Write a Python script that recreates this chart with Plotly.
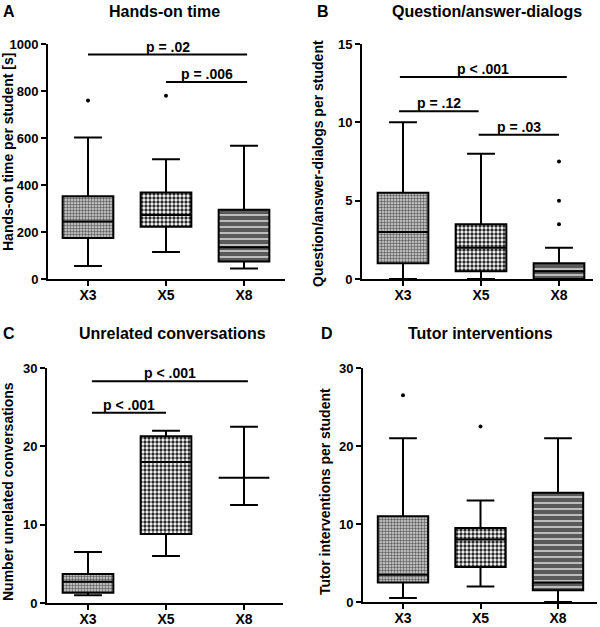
import plotly.graph_objects as go

# ---------------- data ----------------
CATS = ["X3", "X5", "X8"]

# Panel A: Hands-on time
A_LOW = [55, 115, 45]
A_Q1 = [175, 222, 75]
A_MED = [245, 272, 135]
A_Q3 = [352, 368, 295]
A_HIGH = [602, 510, 567]
A_OUT_X = ["X3", "X5"]
A_OUT_Y = [760, 780]

# Panel B: Question/answer-dialogs
B_LOW = [0, 0, 0]
B_Q1 = [1, 0.5, 0]
B_MED = [3, 2, 0.5]
B_Q3 = [5.5, 3.5, 1]
B_HIGH = [10, 8, 2]
B_OUT_X = ["X8", "X8", "X8"]
B_OUT_Y = [3.5, 5, 7.5]

# Panel C: Unrelated conversations
C_LOW = [1, 6, 12.5]
C_Q1 = [1.3, 8.8, 16]
C_MED = [2.7, 18, 16]
C_Q3 = [3.7, 21.3, 16]
C_HIGH = [6.5, 22, 22.5]
C_OUT_X = []
C_OUT_Y = []

# Panel D: Tutor interventions
D_LOW = [0.5, 2, 0]
D_Q1 = [2.5, 4.5, 1.5]
D_MED = [3.5, 8, 2.5]
D_Q3 = [11, 9.5, 14]
D_HIGH = [21, 13, 21]
D_OUT_X = ["X3", "X5"]
D_OUT_Y = [26.5, 22.5]

# significance brackets: (label, x start, x end, y)
A_SIG = [("p = .02", 0.0, 2.04, 955), ("p = .006", 1.0, 2.04, 838)]
B_SIG = [("p < .001", -0.04, 2.1, 12.9), ("p = .12", -0.05, 0.97, 10.7), ("p = .03", 0.97, 2.0, 9.2)]
C_SIG = [("p < .001", 0.05, 2.05, 28.3), ("p < .001", 0.05, 1.0, 24.3)]
D_SIG = []

TITLES = ["Hands-on time", "Question/answer-dialogs", "Unrelated conversations", "Tutor interventions"]
LETTERS = ["A", "B", "C", "D"]
YTITLES = ["Hands-on time per student [s]", "Question/answer-dialogs per student",
           "Number unrelated conversations", "Tutor interventions per student"]
YMAX = [1000, 15, 30, 30]
DTICK = [200, 5, 10, 10]

# ---------------- layout constants (pixels) ----------------
W, H = 600, 627
# (left, right, top, bottom, x of X3, x of X8)
PANELS = [
    (48, 285, 44, 279, 88, 244),
    (362, 593, 44, 279, 403, 559),
    (47, 283, 368, 603, 88, 244),
    (363, 597, 368, 602, 403, 558),
]
TITLE_POS = [(164, 11), (487, 11), (172, 333), (480, 333)]
LETTER_POS = [(9, 11), (323, 11), (9, 333), (327, 333)]
YTITLE_POS = [(8, 152), (318, 164), (8, 492), (325, 492)]

PATTERN = dict(
    shape=[".", ".", "-"],
    fgcolor=["#606060", "#2a2a2a", "#ffffff"],
    bgcolor=["#d6d6d6", "#ffffff", "#5a5a5a"],
    size=[3, 4, 6],
    solidity=[0.5, 0.55, 0.2],
)

FONT = "Liberation Sans"


def px(x):
    return x / W


def py(y):
    return 1 - y / H


panels_data = [
    (A_LOW, A_Q1, A_MED, A_Q3, A_HIGH, A_OUT_X, A_OUT_Y, A_SIG),
    (B_LOW, B_Q1, B_MED, B_Q3, B_HIGH, B_OUT_X, B_OUT_Y, B_SIG),
    (C_LOW, C_Q1, C_MED, C_Q3, C_HIGH, C_OUT_X, C_OUT_Y, C_SIG),
    (D_LOW, D_Q1, D_MED, D_Q3, D_HIGH, D_OUT_X, D_OUT_Y, D_SIG),
]

fig = go.Figure()
shapes = []
annotations = []
layout = {}

for i, (low, q1, med, q3, high, ox, oy, sig) in enumerate(panels_data):
    n = "" if i == 0 else str(i + 1)
    xa, ya = "x" + n, "y" + n
    L, R, T, B, x3, x8 = PANELS[i]
    s = (x8 - x3) / 2.0
    xr = [-(x3 - L) / s, 2 + (R - x8) / s]

    fig.add_trace(go.Bar(
        x=CATS, y=[b - a for a, b in zip(q1, q3)], base=q1, width=0.65,
        marker=dict(pattern=PATTERN, line=dict(width=0)),
        xaxis=xa, yaxis=ya, showlegend=False, hoverinfo="skip"))
    fig.add_trace(go.Box(
        x=CATS, q1=q1, median=med, q3=q3, lowerfence=low, upperfence=high,
        width=0.65, whiskerwidth=0.55, fillcolor="rgba(0,0,0,0)",
        line=dict(color="black", width=2), boxpoints=False,
        xaxis=xa, yaxis=ya, showlegend=False))
    if ox:
        fig.add_trace(go.Scatter(
            x=ox, y=oy, mode="markers", marker=dict(color="black", size=4),
            xaxis=xa, yaxis=ya, showlegend=False))

    layout["xaxis" + n] = dict(
        domain=[px(L), px(R)], anchor=ya, range=xr, type="category",
        automargin=False, ticklabelstandoff=-3,
        showline=True, linewidth=2, linecolor="black", ticks="outside",
        ticklen=5, tickwidth=2, tickcolor="black", showgrid=False, zeroline=False,
        tickfont=dict(family=FONT, size=14, color="black", weight="bold"),
        fixedrange=True)
    layout["yaxis" + n] = dict(
        domain=[py(B), py(T)], anchor=xa, range=[0, YMAX[i]],
        automargin=False,
        dtick=DTICK[i], showline=True, linewidth=2, linecolor="black",
        ticks="outside", ticklen=5, tickwidth=2, tickcolor="black",
        showgrid=False, zeroline=False,
        tickfont=dict(family=FONT, size=13, color="black", weight="bold"),
        fixedrange=True)

    for label, xs, xe, yv in sig:
        shapes.append(dict(type="line", xref=xa, yref=ya, x0=xs, x1=xe, y0=yv, y1=yv,
                           line=dict(color="black", width=2)))
        annotations.append(dict(xref=xa, yref=ya, x=(xs + xe) / 2, y=yv, text=label,
                                showarrow=False, yanchor="bottom", yshift=-2,
                                font=dict(family=FONT, size=14, color="black", weight="bold")))

    tx, ty = TITLE_POS[i]
    annotations.append(dict(xref="paper", yref="paper", x=px(tx), y=py(ty), text=TITLES[i],
                            showarrow=False, xanchor="center", yanchor="middle",
                            font=dict(family=FONT, size=16, color="black", weight="bold")))
    lx, ly = LETTER_POS[i]
    annotations.append(dict(xref="paper", yref="paper", x=px(lx), y=py(ly), text=LETTERS[i],
                            showarrow=False, xanchor="center", yanchor="middle",
                            font=dict(family=FONT, size=16, color="black", weight="bold")))
    yx, yy = YTITLE_POS[i]
    annotations.append(dict(xref="paper", yref="paper", x=px(yx), y=py(yy), text=YTITLES[i],
                            showarrow=False, xanchor="center", yanchor="middle", textangle=-90,
                            font=dict(family=FONT, size=14, color="black", weight="bold")))

fig.update_layout(
    template="none",
    width=W, height=H, margin=dict(l=0, r=0, t=0, b=0, pad=0),
    paper_bgcolor="white", plot_bgcolor="white",
    barmode="overlay", shapes=shapes, annotations=annotations,
    showlegend=False, **layout)

fig.write_html("out.html", config={"displayModeBar": False},
               post_script="document.body.style.margin='0';document.body.style.overflow='hidden';")
